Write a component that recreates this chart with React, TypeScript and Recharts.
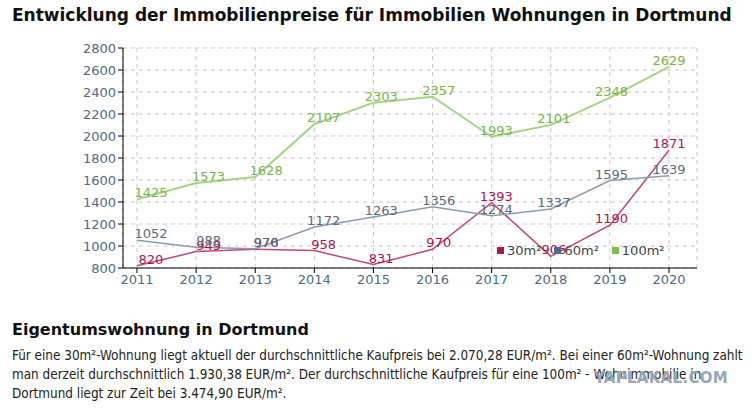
import React from "react";
import { LineChart, Line, XAxis, YAxis, CartesianGrid, LabelList } from "recharts";

const years = ["2011", "2012", "2013", "2014", "2015", "2016", "2017", "2018", "2019", "2020"];
const s30 = [820, 949, 970, 958, 831, 970, 1393, 906, 1190, 1871];
const s60 = [1052, 988, 976, 1172, 1263, 1356, 1274, 1337, 1595, 1639];
const s100 = [1425, 1573, 1628, 2107, 2303, 2357, 1993, 2101, 2348, 2629];
const yTicks = [800, 1000, 1200, 1400, 1600, 1800, 2000, 2200, 2400, 2600, 2800];
const seriesNames = ["30m²", "60m²", "100m²"];
const textLines = [
  "Für eine 30m²-Wohnung liegt aktuell der durchschnittliche Kaufpreis bei 2.070,28 EUR/m². Bei einer 60m²-Wohnung zahlt",
  "man derzeit durchschnittlich 1.930,38 EUR/m². Der durchschnittliche Kaufpreis für eine 100m² - Wohnimmobilie in",
  "Dortmund liegt zur Zeit bei 3.474,90 EUR/m².",
];

const data = years.map((y, i) => ({ year: y, a: s30[i], b: s60[i], c: s100[i] }));

const RED = "#c2466f";
const RED_T = "#a8174f";
const GREY = "#8c9aae";
const GREY_T = "#5b6a80";
const GREEN = "#a3d585";
const GREEN_T = "#78b44c";
const TICK = "#4d6a88";
const legendColors = [RED_T, "#4f6a8c", "#7cc04a"];

const makeLabel = (color: string) => (props: any) => {
  const { x, y, value, index } = props;
  const n = years.length - 1;
  const dx = ((n - index) / n) * 14;
  return (
    <text x={x + dx} y={y - 2} fill={color} fontSize={13} textAnchor="middle">
      {value}
    </text>
  );
};

export default function App() {
  return (
    <div style={{ position: "absolute", left: 0, top: 0, width: 753, height: 415, background: "#fff", fontFamily: "'DejaVu Sans', sans-serif", overflow: "hidden" }}>
      <div style={{ position: "absolute", left: 12, top: 5, fontSize: 17, fontWeight: "bold", color: "#111", whiteSpace: "nowrap" }}>
        Entwicklung der Immobilienpreise für Immobilien Wohnungen in Dortmund
      </div>
      <div style={{ position: "absolute", left: 0, top: 0 }}>
        <LineChart width={753} height={300} data={data} margin={{ top: 48, left: 63, right: 56, bottom: 12 }}>
          <CartesianGrid stroke="#c8c8c8" strokeDasharray="4 4" />
          <XAxis dataKey="year" padding={{ left: 14, right: 28 }} stroke="#000" tick={{ fill: TICK, fontSize: 13 }} tickSize={5} height={20} interval={0} />
          <YAxis domain={[800, 2800]} ticks={yTicks} stroke="#000" width={60} tick={{ fill: TICK, fontSize: 13 }} tickSize={5} interval={0} />
          <Line type="linear" dataKey="a" name={seriesNames[0]} stroke={RED} strokeWidth={1.5} dot={false} isAnimationActive={false}>
            <LabelList dataKey="a" content={makeLabel(RED_T)} />
          </Line>
          <Line type="linear" dataKey="b" name={seriesNames[1]} stroke={GREY} strokeWidth={1.5} dot={false} isAnimationActive={false}>
            <LabelList dataKey="b" content={makeLabel(GREY_T)} />
          </Line>
          <Line type="linear" dataKey="c" name={seriesNames[2]} stroke={GREEN} strokeWidth={2} dot={false} isAnimationActive={false}>
            <LabelList dataKey="c" content={makeLabel(GREEN_T)} />
          </Line>
        </LineChart>
      </div>
      <div style={{ position: "absolute", left: 497, top: 243, display: "flex", gap: 13, fontSize: 13, color: "#444", whiteSpace: "nowrap" }}>
        {seriesNames.map((n, i) => (
          <span key={n} style={{ display: "flex", alignItems: "center" }}>
            <span style={{ display: "inline-block", width: 7, height: 7, background: legendColors[i], marginRight: 3 }} />
            {n}
          </span>
        ))}
      </div>
      <div style={{ position: "absolute", left: 12, top: 320, fontSize: 16, fontWeight: "bold", color: "#111" }}>
        Eigentumswohnung in Dortmund
      </div>
      <div style={{ position: "absolute", left: 12, top: 346, fontSize: 13.4, lineHeight: "19px", color: "#222", fontFamily: "'DejaVu Sans Condensed', 'DejaVu Sans', sans-serif", whiteSpace: "nowrap" }}>
        {textLines.map((t) => (
          <div key={t}>{t}</div>
        ))}
      </div>
      <div style={{ position: "absolute", left: 594, top: 369, fontSize: 15, fontWeight: "bold", color: "#9aa7b8", letterSpacing: 0.3 }}>
        YAPLAKAL.COM
      </div>
    </div>
  );
}
